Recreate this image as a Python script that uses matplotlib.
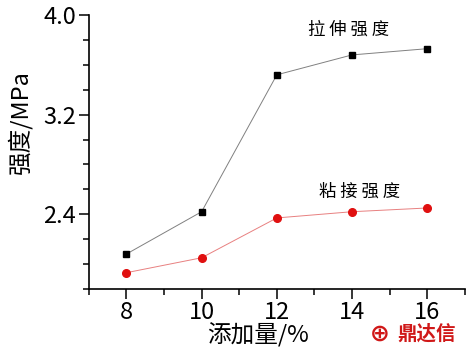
import matplotlib.pyplot as plt
from matplotlib.ticker import MultipleLocator

plt.rcParams['font.family'] = ['Noto Sans CJK SC', 'DejaVu Sans']

additive = [8, 10, 12, 14, 16]
tensile = [2.08, 2.42, 3.52, 3.68, 3.73]
adhesive = [1.93, 2.05, 2.37, 2.42, 2.45]

fig = plt.figure(figsize=(4.7, 3.51), dpi=100)
ax = fig.add_axes([0.189, 0.177, 0.800, 0.780])

ax.plot(additive, tensile, color='#808080', lw=0.7, marker='s', ms=4.5,
        mfc='black', mec='black')
ax.plot(additive, adhesive, color='#e88080', lw=0.7, marker='o', ms=5.5,
        mfc='#e01010', mec='#e01010')

ax.set_xlim(7, 17)
ax.set_ylim(1.8, 4.0)
ax.xaxis.set_major_locator(MultipleLocator(2))
ax.xaxis.set_minor_locator(MultipleLocator(1))
ax.yaxis.set_major_locator(MultipleLocator(0.8))
ax.yaxis.set_minor_locator(MultipleLocator(0.2))
ax.tick_params(which='major', direction='out', length=7, width=1.1, labelsize=17, pad=2)
ax.tick_params(which='minor', direction='out', length=4, width=1.1)
ax.yaxis.set_major_formatter(plt.FuncFormatter(lambda v, p: f'{v:.1f}'))

for s in ['top', 'right']:
    ax.spines[s].set_visible(False)
for s in ['left', 'bottom']:
    ax.spines[s].set_linewidth(1.2)

ax.set_xlabel('添加量/%', fontsize=17)
ax.xaxis.set_label_coords(0.45, -0.125)
ax.set_ylabel('强度/MPa', fontsize=17)
ax.yaxis.set_label_coords(-0.15, 0.61)

ax.text(13.9, 3.88, '拉 伸 强 度', fontsize=12.5, ha='center', va='center')
ax.text(14.2, 2.58, '粘 接 强 度', fontsize=12.5, ha='center', va='center')

fig.text(0.808, 0.05, '⊕', color='#d01818', fontsize=17, ha='center', va='center',
         family=['DejaVu Sans'], fontweight='bold')
fig.text(0.845, 0.05, '鼎达信', color='#d01818', fontsize=14, ha='left', va='center',
         fontweight='bold')

fig.savefig('out.png', dpi=100)
